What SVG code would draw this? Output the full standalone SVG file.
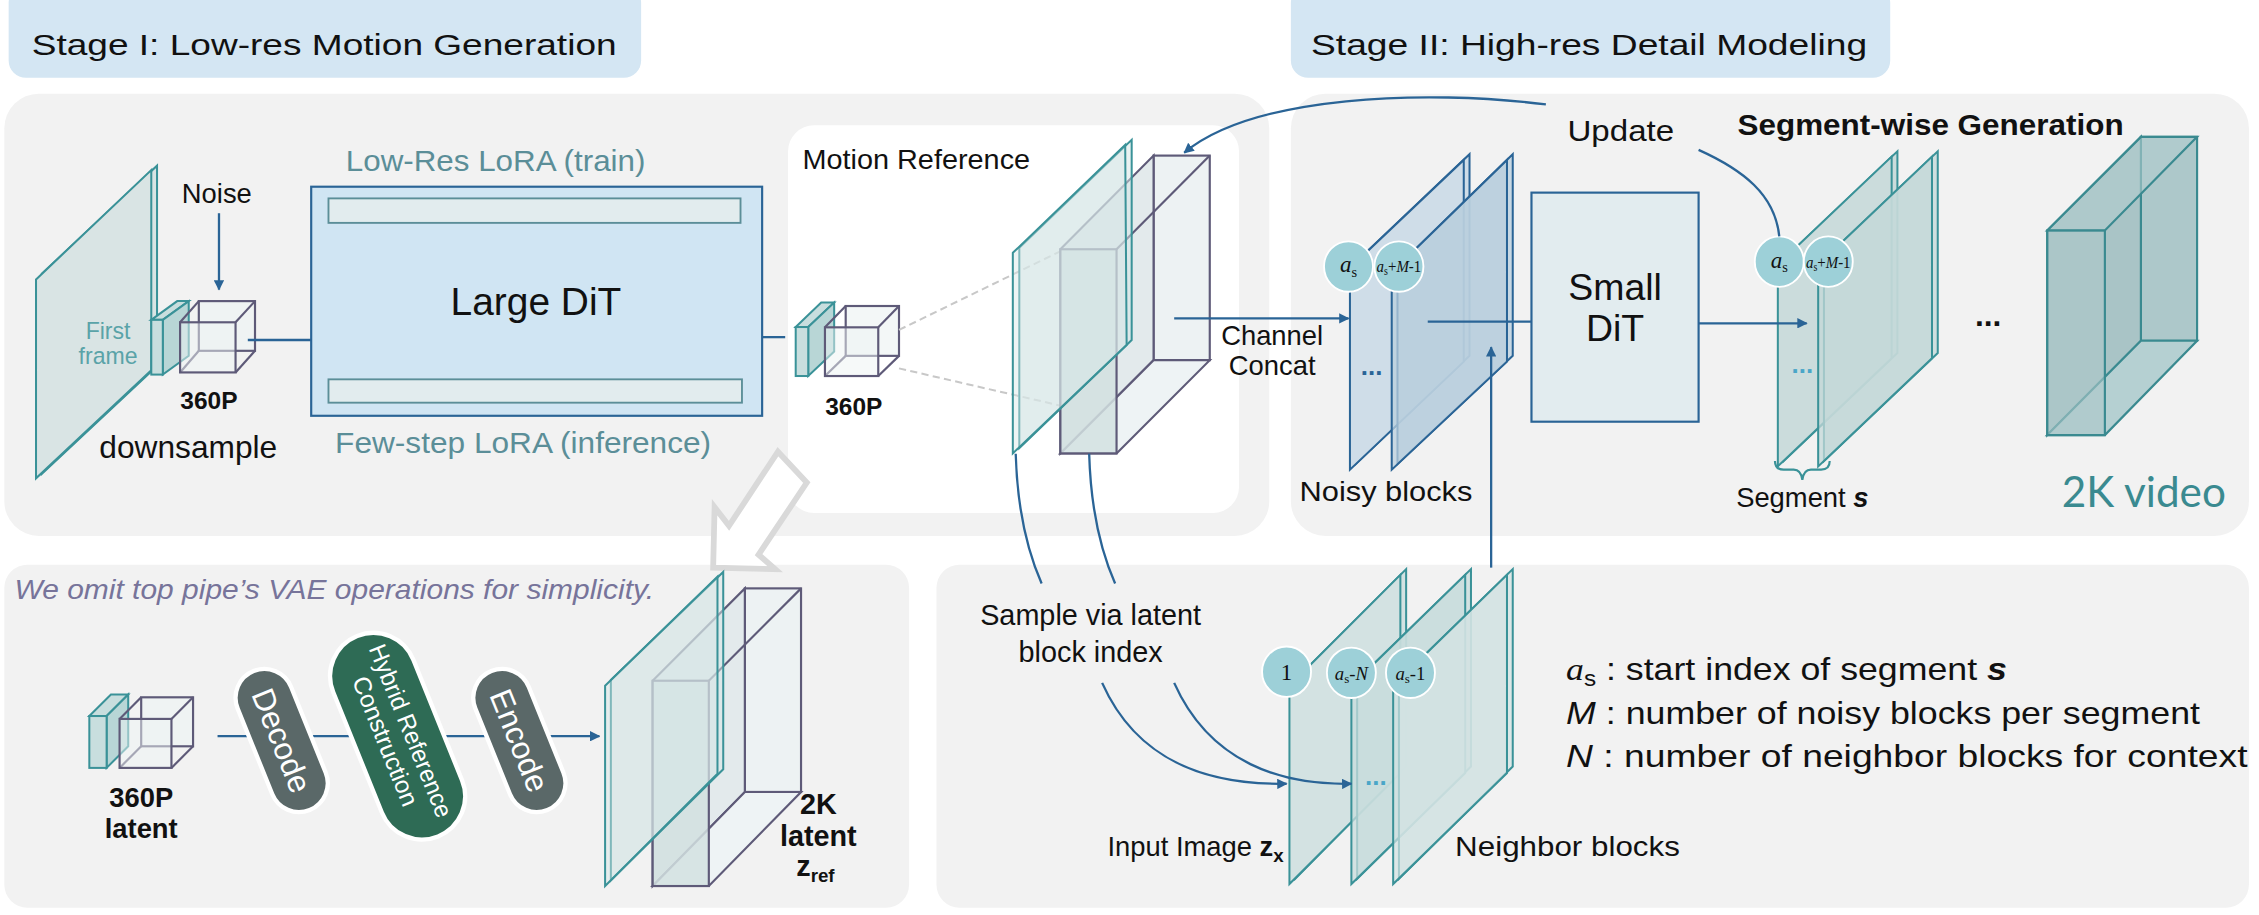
<svg xmlns="http://www.w3.org/2000/svg" width="2259" height="915" viewBox="0 0 2259 915">
<defs>
<marker id="ah" viewBox="0 0 10 10" refX="9" refY="5" markerWidth="4.5" markerHeight="4.5" orient="auto" markerUnits="strokeWidth"><path d="M0,0 L10,5 L0,10 z" fill="#2a6496"/></marker>
<style>
text{font-family:"Liberation Sans",Arial,sans-serif;fill:#111}
.panel{fill:#f2f2f2}
.stage{fill:#d4e6f3}
.bl{stroke:#2a6496;stroke-width:1.6;fill:none}
.teal{stroke:#3a9298;stroke-width:1.4}
.pur{stroke:#5e5a78;stroke-width:1.5}
.circ{fill:#9dd0d8;stroke:#fff;stroke-width:1.3}
.ser{font-family:"Liberation Serif","Times New Roman",serif;font-style:italic}
</style>
</defs>
<g transform="scale(1.44071)">
<g id="panels">
<rect class="stage" x="6" y="-10" width="439" height="64" rx="12"/>
<rect class="stage" x="896" y="-10" width="416" height="64" rx="12"/>
<rect class="panel" x="3" y="65" width="878" height="307" rx="24"/>
<rect x="547" y="87" width="313" height="269" rx="18" fill="#fff"/>
<rect class="panel" x="896" y="65" width="665" height="307" rx="24"/>
<rect class="panel" x="3" y="392" width="628" height="238" rx="16"/>
<rect class="panel" x="650" y="392" width="911" height="238" rx="16"/>
<text x="22" y="38" font-size="21" textLength="406" lengthAdjust="spacingAndGlyphs">Stage I: Low-res Motion Generation</text>
<text x="910" y="38" font-size="21" textLength="386" lengthAdjust="spacingAndGlyphs">Stage II: High-res Detail Modeling</text>
</g>
<g id="hollow-arrow">
<polygon points="540,313.5 560,335 526.5,385 538,395 495,394 496,352 506,365" fill="#fff" stroke="#d9d9d9" stroke-width="4"/>
</g>
<g id="first-frame">
<polygon points="29,190 109,115 109,254 29,329" fill="#d9e4e4" class="teal"/>
<polygon points="25,194 105,118 105,257 25,332" fill="#d9e4e4" class="teal"/>
<text x="75" y="235" font-size="16" text-anchor="middle" style="fill:#5aa3a8">First</text>
<text x="75" y="253" font-size="16" text-anchor="middle" style="fill:#5aa3a8">frame</text>
<text x="130.7" y="318" font-size="22" text-anchor="middle">downsample</text>
</g>
<g id="latent1">
<polygon points="105,222 123,209 131,209 113,222" fill="#c8dede" class="teal"/>
<polygon points="113,222 131,209 131,247 113,260" fill="#b8d6d6" class="teal"/>
<rect x="105" y="222" width="8" height="38" fill="#c8dede" class="teal"/>
<g class="pur" fill="none"><rect x="138" y="209" width="39" height="34.5" fill="#eef3f4" fill-opacity="0.7"/><line x1="125" y1="223.7" x2="138" y2="209"/><line x1="163.5" y1="223.7" x2="177" y2="209"/><line x1="125" y1="258.5" x2="138" y2="243.5"/><line x1="163.5" y1="258.5" x2="177" y2="243.5"/><rect x="125" y="223.7" width="38.5" height="34.8" fill="#eef3f4" fill-opacity="0.5"/></g>
<text x="145" y="284" font-size="17" font-weight="bold" text-anchor="middle">360P</text>
<text x="150.5" y="141" font-size="19" text-anchor="middle">Noise</text>
</g>
<g id="large-dit">
<rect x="216" y="129.6" width="313" height="159" fill="#d0e5f3" stroke="#2a6496" stroke-width="1.5"/>
<rect x="228" y="137.7" width="286" height="17" fill="#e2ecee" stroke="#5b8e98" stroke-width="1.3"/>
<rect x="228" y="263.3" width="287" height="16.2" fill="#e2ecee" stroke="#5b8e98" stroke-width="1.3"/>
<text x="372" y="218.6" font-size="27" text-anchor="middle">Large DiT</text>
<text style="fill:#5b8e98" x="240" y="119" font-size="21" textLength="208" lengthAdjust="spacingAndGlyphs">Low-Res LoRA (train)</text>
<text style="fill:#5b8e98" x="232.6" y="314.7" font-size="21" textLength="261" lengthAdjust="spacingAndGlyphs">Few-step LoRA (inference)</text>
</g>
<g id="latent2">
<polygon points="552.3,227 570,210 579,210 561,227" fill="#c8dede" class="teal"/>
<polygon points="561,227 579,210 579,244 561,261" fill="#b8d6d6" class="teal"/>
<rect x="552.3" y="227" width="8.7" height="34" fill="#c8dede" class="teal"/>
<g class="pur" fill="none"><rect x="587" y="212.4" width="37" height="34.6" fill="#eef3f4" fill-opacity="0.7"/><line x1="572.6" y1="227.2" x2="587" y2="212.4"/><line x1="609.6" y1="227.2" x2="624" y2="212.4"/><line x1="572.6" y1="261" x2="587" y2="247"/><line x1="609.6" y1="261" x2="624" y2="247"/><rect x="572.6" y="227.2" width="37" height="33.8" fill="#eef3f4" fill-opacity="0.5"/></g>
<text x="592.6" y="288" font-size="17" font-weight="bold" text-anchor="middle">360P</text>
</g>
<g id="motion-reference">
<text x="557" y="117" font-size="19" textLength="158" lengthAdjust="spacingAndGlyphs">Motion Reference</text>
<line x1="624" y1="229" x2="780" y2="153" stroke="#c8c8c8" stroke-width="1.4" stroke-dasharray="5,3"/>
<line x1="624" y1="255.7" x2="784.4" y2="292.7" stroke="#c8c8c8" stroke-width="1.4" stroke-dasharray="5,3"/>
<g class="pur">
<rect x="800.7" y="108" width="39" height="142" fill="#edf2f3"/>
<polygon points="736,173 800.7,108 800.7,250 736,314.7" fill="#e3eaec"/>
<polygon points="736,314.7 800.7,250 839.7,250 775,314.7" fill="#eef3f5"/>
<line x1="775" y1="173" x2="839.7" y2="108"/>
<rect x="736" y="173" width="39" height="141.7" fill="#d2e0e1" fill-opacity="0.85"/>
</g>
<polygon points="707.5,172 785.5,97 785.5,236 707.5,311" fill="#d6e6e6" fill-opacity="0.5" class="teal"/>
<polygon points="703,175.5 781,100.6 782,239.5 703,314.7" fill="#d6e6e6" fill-opacity="0.45" class="teal"/>
</g>
<g id="noisy-blocks">
<polygon points="941,182 1020,107 1020,247 941,322" fill="#cfdde8" stroke="#2a6496" stroke-width="1.4"/>
<polygon points="937,186 1016,111 1016,251 937,326" fill="#cfdde8" stroke="#2a6496" stroke-width="1.4"/>
<polygon points="970,185 1050,107 1050,247 970,322" fill="#b9cfde" fill-opacity="0.75" stroke="#2a6496" stroke-width="1.4"/>
<polygon points="966,189 1046,111 1046,251 966,326" fill="#b9cfde" fill-opacity="0.75" stroke="#2a6496" stroke-width="1.4"/>
<ellipse class="circ" cx="936" cy="185" rx="17" ry="17.5"/>
<ellipse class="circ" cx="971" cy="185" rx="17" ry="17.5"/>
<text class="ser" x="936" y="189" font-size="16" text-anchor="middle">a<tspan font-size="10" font-style="normal" dy="3">s</tspan></text>
<text class="ser" x="971" y="189" font-size="12" text-anchor="middle" textLength="31" lengthAdjust="spacingAndGlyphs">a<tspan font-size="8" font-style="normal" dy="2">s</tspan><tspan dy="-2" font-style="normal">+</tspan>M<tspan font-style="normal">-1</tspan></text>
<text x="952" y="260" font-size="18" font-weight="bold" text-anchor="middle" style="fill:#2a6496">...</text>
<text x="902" y="348" font-size="19" textLength="120" lengthAdjust="spacingAndGlyphs">Noisy blocks</text>
<text x="883" y="239.5" font-size="19" text-anchor="middle">Channel</text>
<text x="883" y="260.5" font-size="19" text-anchor="middle">Concat</text>
</g>
<g id="small-dit">
<rect x="1063" y="133.7" width="116" height="159" fill="#e2ecef" stroke="#2a6496" stroke-width="1.5"/>
<text x="1121" y="208" font-size="26" text-anchor="middle">Small</text>
<text x="1121" y="237" font-size="26" text-anchor="middle">DiT</text>
</g>
<g id="segment">
<polygon points="1238,180 1317,105 1317,245 1238,320" fill="#cbdcdc" class="teal"/>
<polygon points="1234,183.7 1313,108.7 1313,248.7 1234,323.7" fill="#cbdcdc" class="teal"/>
<polygon points="1266,180 1345,105 1345,245 1266,320" fill="#c4d8d8" fill-opacity="0.75" class="teal"/>
<polygon points="1262,183.7 1341,108.7 1341,248.7 1262,323.7" fill="#c4d8d8" fill-opacity="0.75" class="teal"/>
<ellipse class="circ" cx="1235" cy="181.6" rx="17" ry="17.5"/>
<ellipse class="circ" cx="1269" cy="181.6" rx="17" ry="17.5"/>
<text class="ser" x="1235" y="186" font-size="16" text-anchor="middle">a<tspan font-size="10" font-style="normal" dy="3">s</tspan></text>
<text class="ser" x="1269" y="186" font-size="12" text-anchor="middle" textLength="31" lengthAdjust="spacingAndGlyphs">a<tspan font-size="8" font-style="normal" dy="2">s</tspan><tspan dy="-2" font-style="normal">+</tspan>M<tspan font-style="normal">-1</tspan></text>
<text x="1251" y="259" font-size="18" font-weight="bold" text-anchor="middle" style="fill:#4aa6c8">...</text>
<path d="M1232,320 q0,6 6,6 h7 q5,0 6,7 q1,-7 6,-7 h7 q6,0 6,-6" fill="none" stroke="#3a9298" stroke-width="1.5"/>
<text x="1251" y="351.6" font-size="19" text-anchor="middle">Segment <tspan font-weight="bold" font-style="italic">s</tspan></text>
<text x="1206" y="93.7" font-size="21" font-weight="bold" textLength="268" lengthAdjust="spacingAndGlyphs">Segment-wise Generation</text>
<text x="1088" y="98" font-size="21" textLength="74" lengthAdjust="spacingAndGlyphs">Update</text>
<text x="1380" y="226" font-size="22" font-weight="bold" text-anchor="middle">...</text>
</g>
<g id="video">
<g stroke="#3a8a90" stroke-width="1.5">
<rect x="1486" y="95" width="39" height="141.5" fill="#adc8ca"/>
<polygon points="1421,160 1486,95 1486,236.5 1421,302" fill="#a9c4c6"/>
<polygon points="1421,302 1486,236.5 1525,236.5 1461,302" fill="#b5d0d2"/>
<polygon points="1421,160 1486,95 1525,95 1461,160" fill="#b2cdcf" fill-opacity="0.6"/>
<rect x="1421" y="160" width="40" height="142" fill="#adc8ca" fill-opacity="0.6"/>
</g>
<text x="1431" y="352" font-size="30" style="fill:#3a8a90;font-family:Lato,'Open Sans',sans-serif" textLength="114" lengthAdjust="spacingAndGlyphs">2K video</text>
</g>
<g id="bottom-left">
<text x="10" y="416" font-size="19" font-style="italic" style="fill:#77749a" textLength="444" lengthAdjust="spacingAndGlyphs">We omit top pipe’s VAE operations for simplicity.</text>
<polygon points="62,497 77,482 89,482 74,497" fill="#c8dede" class="teal"/>
<polygon points="74,497 89,482 89,518 74,533" fill="#b8d6d6" class="teal"/>
<rect x="62" y="497" width="12" height="36" fill="#c8dede" class="teal"/>
<g class="pur" fill="none"><rect x="98" y="484" width="36" height="34" fill="#eef3f4" fill-opacity="0.7"/><line x1="83" y1="499" x2="98" y2="484"/><line x1="119" y1="499" x2="134" y2="484"/><line x1="83" y1="533" x2="98" y2="518"/><line x1="119" y1="533" x2="134" y2="518"/><rect x="83" y="499" width="36" height="34" fill="#eef3f4" fill-opacity="0.5"/></g>
<text x="98" y="560" font-size="19" font-weight="bold" text-anchor="middle">360P</text>
<text x="98" y="582" font-size="19" font-weight="bold" text-anchor="middle">latent</text>
</g>
<g id="latent-2k">
<g class="pur">
<rect x="517" y="408.4" width="39" height="141.3" fill="#edf2f3"/>
<polygon points="453,472.5 517,408.4 517,549.7 453,615" fill="#e3eaec"/>
<polygon points="453,615 517,549.7 556,549.7 492,615" fill="#eef3f5"/>
<line x1="492" y1="472.5" x2="556" y2="408.4"/>
<rect x="453" y="472.5" width="39" height="142.5" fill="#d2e0e1" fill-opacity="0.85"/>
</g>
<polygon points="424,472 502,397 502,534 424,611" fill="#d6e6e6" fill-opacity="0.5" class="teal"/>
<polygon points="420,476 498,400.3 498,537 420,615" fill="#d6e6e6" fill-opacity="0.45" class="teal"/>
<text x="568" y="565" font-size="20" font-weight="bold" text-anchor="middle">2K</text>
<text x="568" y="587" font-size="20" font-weight="bold" text-anchor="middle">latent</text>
<text x="566" y="608" font-size="20" font-weight="bold" text-anchor="middle">z<tspan font-size="13" dy="4">ref</tspan></text>
</g>
<g id="neighbor-blocks">
<polygon points="899,472 976,395 976,532 899,610" fill="#d3e2e2" class="teal"/>
<polygon points="895,476 972,399 972,536.6 895,613.6" fill="#d3e2e2" class="teal"/>
<polygon points="942,472 1021,395 1021,532 942,610" fill="#c8dcdc" fill-opacity="0.75" class="teal"/>
<polygon points="938,476 1017,399 1017,536.6 938,613.6" fill="#c8dcdc" fill-opacity="0.75" class="teal"/>
<polygon points="971,472 1050,395 1050,532 971,610" fill="#d3e2e2" fill-opacity="0.7" class="teal"/>
<polygon points="967,476 1046,399 1046,536.6 967,613.6" fill="#d3e2e2" fill-opacity="0.7" class="teal"/>
<ellipse class="circ" cx="893" cy="466.2" rx="17" ry="17.5"/>
<ellipse class="circ" cx="938" cy="467" rx="17" ry="17.5"/>
<ellipse class="circ" cx="979" cy="467" rx="17" ry="17.5"/>
<text x="893" y="472" font-size="16" text-anchor="middle" style="font-family:'Liberation Serif',serif">1</text>
<text class="ser" x="938" y="472" font-size="13" text-anchor="middle">a<tspan font-size="9" font-style="normal" dy="2">s</tspan><tspan dy="-2" font-style="normal">-</tspan>N</text>
<text class="ser" x="979" y="472" font-size="13" text-anchor="middle">a<tspan font-size="9" font-style="normal" dy="2">s</tspan><tspan dy="-2" font-style="normal">-1</tspan></text>
<text x="955" y="545" font-size="18" font-weight="bold" text-anchor="middle" style="fill:#4aa6c8">...</text>
<text x="757" y="434" font-size="20" text-anchor="middle">Sample via latent</text>
<text x="757" y="459.6" font-size="20" text-anchor="middle">block index</text>
<text x="891" y="594" font-size="19" text-anchor="end">Input Image <tspan font-weight="bold">z</tspan><tspan font-weight="bold" font-size="13" dy="4">x</tspan></text>
<text x="1010" y="594" font-size="19" textLength="156" lengthAdjust="spacingAndGlyphs">Neighbor blocks</text>
</g>
<g id="legend">
<text x="1087" y="472" font-size="22" textLength="306" lengthAdjust="spacingAndGlyphs"><tspan class="ser">a</tspan><tspan font-size="15" dy="4">s</tspan><tspan dy="-4"> : start index of segment </tspan><tspan font-style="italic" font-weight="bold">s</tspan></text>
<text x="1087" y="502.4" font-size="22" textLength="440" lengthAdjust="spacingAndGlyphs"><tspan font-style="italic">M</tspan> : number of noisy blocks per segment</text>
<text x="1087" y="532.5" font-size="22" textLength="473" lengthAdjust="spacingAndGlyphs"><tspan font-style="italic">N</tspan> : number of neighbor blocks for context</text>
</g>
<g id="pipe-line"><line class="bl" x1="151" y1="511" x2="416" y2="511" marker-end="url(#ah)"/></g>
<g id="decode"><g transform="translate(195.5,514) rotate(-22)"><rect x="-20" y="-52" width="40" height="104" rx="20" fill="#5a6868" stroke="#fff" stroke-width="3"/></g>
<text transform="translate(195.5,514) rotate(68)" font-size="22" text-anchor="middle" dominant-baseline="central" style="fill:#fff">Decode</text></g>
<g id="hybrid"><g transform="translate(276,511) rotate(-22)"><rect x="-30" y="-75" width="60" height="150" rx="30" fill="#2e6b55" stroke="#fff" stroke-width="3"/></g>
<text transform="translate(276,511) rotate(68)" font-size="17" text-anchor="middle" style="fill:#fff"><tspan x="0" y="-4" textLength="128" lengthAdjust="spacingAndGlyphs">Hybrid Reference</tspan><tspan x="0" y="15">Construction</tspan></text></g>
<g id="encode"><g transform="translate(360.5,514) rotate(-22)"><rect x="-20" y="-52" width="40" height="104" rx="20" fill="#5a6868" stroke="#fff" stroke-width="3"/></g>
<text transform="translate(360.5,514) rotate(68)" font-size="22" text-anchor="middle" dominant-baseline="central" style="fill:#fff">Encode</text></g>
<g id="connectors" class="bl">
<line x1="152" y1="148" x2="152" y2="201" marker-end="url(#ah)"/>
<line x1="172" y1="236" x2="216" y2="236"/>
<line x1="529" y1="234" x2="545" y2="234"/>
<line x1="815" y1="221" x2="936" y2="221" marker-end="url(#ah)"/>
<line x1="991" y1="223.2" x2="1063" y2="223.2"/>
<line x1="1179" y1="224.4" x2="1254" y2="224.4" marker-end="url(#ah)"/>
<line x1="1035" y1="394" x2="1035" y2="241" marker-end="url(#ah)"/>
<path d="M1235,164 C1232,135 1210,118 1179,104"/>
<path d="M1073,72.5 C990,62 870,66 822,106" marker-end="url(#ah)"/>
<path d="M705,315 C706,350 712,380 723,405"/>
<path d="M756,315 C757,350 763,380 774,405"/>
<path d="M765,474 C790,530 840,545 893,544" marker-end="url(#ah)"/>
<path d="M815,474 C840,530 890,545 938,544" marker-end="url(#ah)"/>
</g>
</g>
</svg>
